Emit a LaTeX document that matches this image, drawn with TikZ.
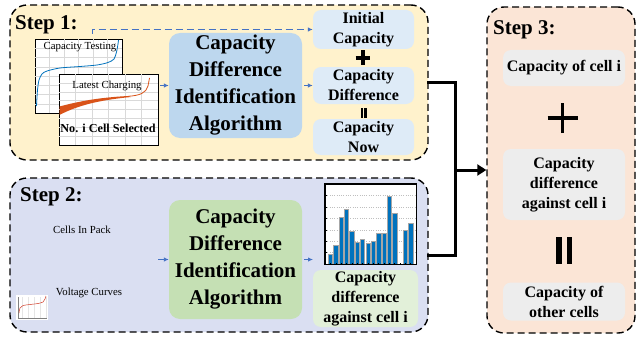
\documentclass[tikz,border=0pt]{standalone}
\usepackage{fontspec}
\setmainfont{Liberation Serif}[BoldFont={Liberation Serif Bold}]
\usetikzlibrary{arrows.meta}

\definecolor{stepone}{HTML}{FFF2CC}
\definecolor{steptwo}{HTML}{DADFF2}
\definecolor{stepthree}{HTML}{FBE5D6}
\definecolor{algoblue}{HTML}{BDD7EE}
\definecolor{valblue}{HTML}{DEEBF7}
\definecolor{algogreen}{HTML}{C5E0B4}
\definecolor{valgreen}{HTML}{E2F0D9}
\definecolor{valgray}{HTML}{EDEDED}
\definecolor{arrowblue}{HTML}{4472C4}
\definecolor{curveblue}{HTML}{0072BD}
\definecolor{curveorange}{HTML}{D95319}

% a plus sign built from two rules: arm length #1, stroke #2
\newcommand{\plussign}[2]{%
  \rule[-0.5\dimexpr#2\relax]{#1}{#2}%
  \hspace{-0.5\dimexpr#1\relax}\hspace{-0.5\dimexpr#2\relax}%
  \rule[-0.5\dimexpr#1\relax]{#2}{#1}%
  \hspace{0.5\dimexpr#1\relax}\hspace{-0.5\dimexpr#2\relax}}

\begin{document}
\begin{tikzpicture}[x=1pt,y=-1pt,
  font=\rmfamily,
  stepframe/.style={draw=black, line width=1.4pt, dash pattern=on 7pt off 4pt,
    rounded corners=17pt, inner sep=0pt},
  steplabel/.style={font=\rmfamily\fontsize{21}{21}\selectfont\bfseries, anchor=west, inner sep=0pt},
  algobox/.style={rounded corners=11pt, inner sep=0pt, minimum width=133pt,
    align=center, font=\rmfamily\fontsize{21}{27}\selectfont\bfseries},
  valbox/.style={rounded corners=8pt, inner sep=0pt, align=center,
    font=\rmfamily\fontsize{16}{20}\selectfont\bfseries},
  flow/.style={draw=arrowblue, line width=0.9pt, -{Latex[length=5pt,width=4.5pt]}},
  plain/.style={font=\rmfamily\fontsize{10.8}{13}\selectfont, inner sep=0pt},
  bigjoin/.style={draw=black, line width=3pt},
  plotframe/.style={draw=black, line width=0.6pt, fill=white, inner sep=0pt},
  gridline/.style={draw=black!15, line width=0.3pt},
  opsign/.style={inner sep=0pt},
]
\useasboundingbox (0,0) rectangle (636,337);

% ---------- step frames ----------
\node[stepframe, fill=stepone, minimum width=418pt, minimum height=155pt] (s1) at (219,82.5) {};
\node[stepframe, fill=steptwo, minimum width=418pt, minimum height=154pt] (s2) at (219,255) {};
\node[stepframe, fill=stepthree, minimum width=148pt, minimum height=326pt] (s3) at (561,170) {};

\node[steplabel] (l1) at (15,25) {Step 1:};
\node[steplabel] (l2) at (20,197) {Step 2:};
\node[steplabel] (l3) at (493,30) {Step 3:};

% ---------- step 1: input curves ----------
\node[plotframe, minimum width=87pt, minimum height=74pt] (ctplot) at (78.5,76) {};
\foreach \gx in {49.5,64,78.5,93,107.5} \draw[gridline] (\gx,39) -- (\gx,113);
\foreach \gy in {48.25,57.5,66.75,76,85.25,94.5,103.75} \draw[gridline] (35,\gy) -- (122,\gy);
\draw[curveblue, line width=0.8pt] plot[smooth] coordinates
  {(36.5,106) (37.5,90) (39,80) (42,74) (47,71) (60,68) (80,66.5) (97,65)
   (108,62.5) (114,59) (116.5,52) (118,44) (118.5,40)};
\node[plain] (ctlabel) at (80,47) {Capacity Testing};

\node[plotframe, minimum width=99pt, minimum height=71pt] (lcplot) at (108.5,109.5) {};
\foreach \gx in {75.5,92,108.5,125,141.5} \draw[gridline] (\gx,74) -- (\gx,145);
\foreach \gy in {82.9,91.8,100.6,109.5,118.4,127.3,136.1} \draw[gridline] (59,\gy) -- (158,\gy);
\fill[curveorange] (59.5,106.5) .. controls (80,101) and (100,97.5) .. (128,96)
  -- (131,97) .. controls (105,99.5) and (80,104) .. (59.5,115) -- cycle;
\draw[curveorange, line width=0.8pt] (128,96.3) .. controls (140,95.5) and (146,93) .. (148,86)
  -- (149.5,78);
\node[plain] (lclabel) at (107,86) {Latest Charging};
\node[inner sep=0pt, font=\rmfamily\fontsize{12.2}{14}\selectfont\bfseries] (sel) at (108,128) {No. i Cell Selected};

% ---------- step 1: algorithm and results ----------
\node[algobox, fill=algoblue, minimum height=105pt] (alg1) at (235.5,85.5)
  {Capacity\\Difference\\Identification\\Algorithm};

\node[valbox, fill=valblue, minimum width=101pt, minimum height=39pt] (ini) at (363.5,29.5)
  {Initial\\Capacity};
\node[valbox, fill=valblue, minimum width=101pt, minimum height=37pt] (dif) at (363.5,85.5)
  {Capacity\\Difference};
\node[valbox, fill=valblue, minimum width=101pt, minimum height=36pt] (now) at (363.5,137)
  {Capacity\\Now};
\node[opsign] (plusa) at (363.5,57.5) {\plussign{14pt}{4pt}};
\node[opsign] (eqa) at (363.5,113) {\rule{2.2pt}{10pt}\hspace{1.6pt}\rule{2.2pt}{10pt}};

\coordinate (dstart) at (92,34);
\draw[flow, dash pattern=on 7pt off 4pt] (dstart) |- (ini.west);
\coordinate (pstart) at (160,85.5);
\draw[flow] (pstart) -- (alg1.west);
\draw[flow, shorten <=2pt] (alg1.east) -- (dif.west);

% ---------- step 2 ----------
\node[plain] (cells) at (82,230) {Cells In Pack};
\node[plain] (volt) at (89,293) {Voltage Curves};
\node[fill=white, inner sep=0pt, minimum width=32pt, minimum height=25pt] (vcplot) at (32,307.5) {};
\foreach \gx in {22,28,34,40,46} \draw[draw=black!10, line width=0.2pt] (\gx,297) -- (\gx,318);
\draw[draw=black!50, line width=0.3pt] (18,297) -- (18,318) -- (47,318);
\draw[draw=curveorange!70!purple, line width=0.5pt] plot[smooth] coordinates
  {(19,313) (20,308) (23,305.5) (30,304.5) (38,303.5) (43,302) (45,299) (46,296)};

\node[algobox, fill=algogreen, minimum height=119pt] (alg2) at (235.5,259.5)
  {Capacity\\Difference\\Identification\\Algorithm};

\coordinate (vstart) at (158,259.5);
\draw[flow] (vstart) -- (alg2.west);
\coordinate (chartin) at (313,259.5);
\draw[flow, shorten <=2pt] (alg2.east) -- (chartin);

% bar chart of capacity differences
\node[plotframe, minimum width=91pt, minimum height=80pt] (chart) at (370.5,224) {};
\foreach \gy in {195.4,206.9,218.3,229.7,241.1,252.6} \draw[draw=black!25, line width=0.3pt, dotted] (325,\gy) -- (416,\gy);
\foreach \i/\h in {1/9.7,2/19,3/46.7,4/55,5/33,6/22,7/25,8/21,9/23.3,10/30.7,11/30.7,12/68,13/50.7,15/34,16/41}
  \filldraw[fill=curveblue, draw=black!35, line width=0.3pt]
    ({325+\i*5.35-2.15},264) rectangle ({325+\i*5.35+2.15},{264-\h});
\draw[line width=0.6pt] (chart.north west) rectangle (chart.south east);
\foreach \gy in {195.4,206.9,218.3,229.7,241.1,252.6} \draw[line width=0.3pt] (325,\gy) -- (326.5,\gy);
\foreach \i in {1,...,16} \draw[line width=0.3pt] ({325+\i*5.35},264) -- ({325+\i*5.35},262.5);

\node[valbox, fill=valgreen, minimum width=105pt, minimum height=57pt] (cda) at (365.5,298.5)
  {Capacity\\difference\\against cell i};

% ---------- merging connectors ----------
\coordinate (jn) at (455,170);
\draw[bigjoin, line cap=rect] (s1.east) -| (jn);
\draw[bigjoin, line cap=rect] (s2.east) -| (jn);
\draw[bigjoin, -{Triangle[length=9pt,width=11pt]}] (jn) -- (s3.west);

% ---------- step 3 ----------
\node[valbox, fill=valgray, minimum width=122pt, minimum height=36pt] (own) at (564,68)
  {Capacity of cell i};
\node[opsign] (plusb) at (563.5,118) {\plussign{30pt}{3.8pt}};
\node[valbox, fill=valgray, minimum width=122pt, minimum height=71pt] (rel) at (564,184.5)
  {Capacity\\difference\\against cell i};
\node[opsign] (eqb) at (564,250.5) {\rule{5.5pt}{27pt}\hspace{5pt}\rule{5.5pt}{27pt}};
\node[valbox, fill=valgray, minimum width=122pt, minimum height=38pt] (oth) at (564,301.5)
  {Capacity of\\other cells};
\end{tikzpicture}
\end{document}
